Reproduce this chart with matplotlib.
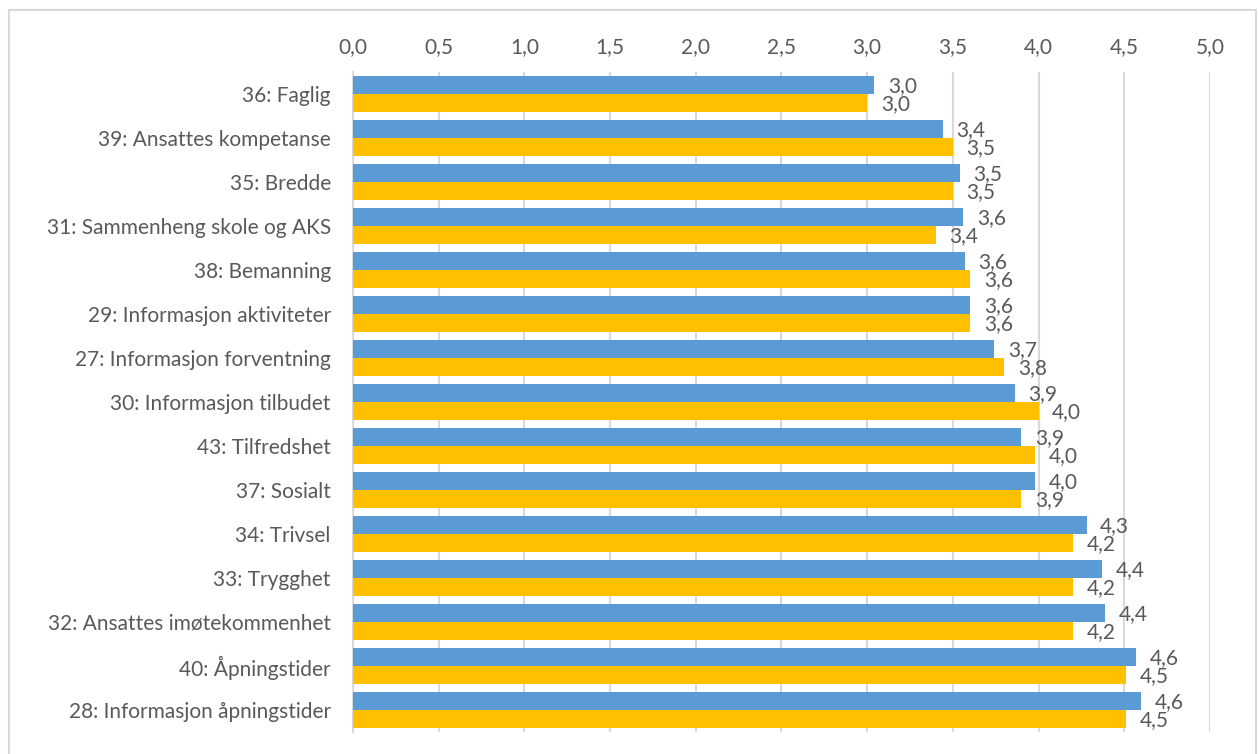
import matplotlib.pyplot as plt
import numpy as np
from matplotlib.patches import Rectangle
from matplotlib.ticker import FuncFormatter

# -----------------------------
# Data
# -----------------------------
categories = [
    "36: Faglig",
    "39: Ansattes kompetanse",
    "35: Bredde",
    "31: Sammenheng skole og AKS",
    "38: Bemanning",
    "29: Informasjon aktiviteter",
    "27: Informasjon forventning",
    "30: Informasjon tilbudet",
    "43: Tilfredshet",
    "37: Sosialt",
    "34: Trivsel",
    "33: Trygghet",
    "32: Ansattes imøtekommenhet",
    "40: Åpningstider",
    "28: Informasjon åpningstider",
]
blue_vals = [3.04, 3.44, 3.54, 3.56, 3.57, 3.60, 3.74, 3.86, 3.90, 3.98,
             4.28, 4.37, 4.39, 4.57, 4.60]
gold_vals = [3.00, 3.50, 3.50, 3.40, 3.60, 3.60, 3.80, 4.00, 3.98, 3.90,
             4.20, 4.20, 4.20, 4.51, 4.51]
xticks = [0.0, 0.5, 1.0, 1.5, 2.0, 2.5, 3.0, 3.5, 4.0, 4.5, 5.0]

BLUE = "#5B9BD5"
GOLD = "#FFC000"
TXT = "#595959"
GRID = "#D9D9D9"

plt.rcParams["font.family"] = ["Lato", "DejaVu Sans"]
FS = 15

fig = plt.figure(figsize=(12.59, 7.54), dpi=100)
ax = fig.add_axes([0.2804, 0.0292, 0.6806, 0.8753])

y = np.arange(len(categories))
h = 0.4
ax.barh(y - h / 2, blue_vals, height=h, color=BLUE, zorder=3)
ax.barh(y + h / 2, gold_vals, height=h, color=GOLD, zorder=3)

def fmt(v):
    return f"{v:.1f}".replace(".", ",")

for i in range(len(categories)):
    ax.text(blue_vals[i] + 0.08, y[i] - h / 2 + 0.02, fmt(blue_vals[i]),
            va="center", ha="left", fontsize=FS, color=TXT, zorder=4)
    ax.text(gold_vals[i] + 0.08, y[i] + h / 2 + 0.02, fmt(gold_vals[i]),
            va="center", ha="left", fontsize=FS, color=TXT, zorder=4)

ax.set_xlim(0, 5)
ax.set_ylim(len(categories) - 0.5, -0.5)
ax.set_xticks(xticks)
ax.xaxis.set_major_formatter(FuncFormatter(lambda v, p: fmt(v)))
ax.xaxis.tick_top()
ax.set_yticks(y)
ax.set_yticklabels(categories)
ax.tick_params(axis="both", length=0, labelsize=FS, labelcolor=TXT)
ax.tick_params(axis="x", pad=11)
ax.tick_params(axis="y", pad=16)

ax.grid(True, axis="x", color=GRID, linewidth=1.5, zorder=0)
for s in ["top", "right", "bottom"]:
    ax.spines[s].set_visible(False)
ax.spines["left"].set_color(GRID)
ax.spines["left"].set_linewidth(1.5)

# chart border
fig.patches.append(Rectangle((9 / 1259, -0.02), 1247 / 1259, 1.02 - 10 / 754,
                             transform=fig.transFigure, fill=False,
                             edgecolor=GRID, linewidth=1.5))

fig.savefig("out.png", dpi=100)
